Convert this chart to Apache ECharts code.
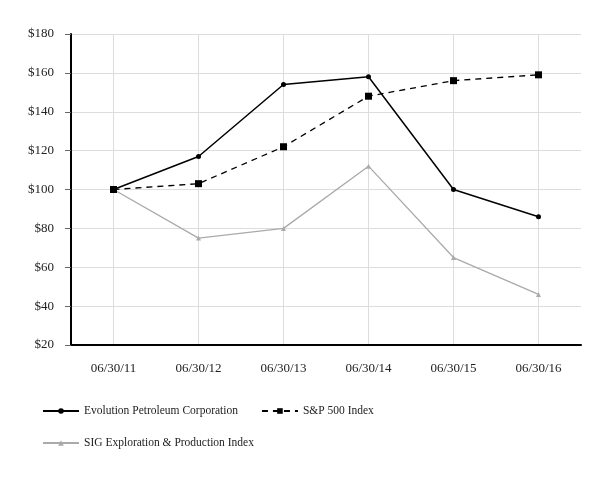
<!DOCTYPE html>
<html><head><meta charset="utf-8">
<script src="https://cdn.jsdelivr.net/npm/echarts@6/dist/echarts.min.js"></script>
<style>html,body{margin:0;padding:0;background:#fff}#c{width:613px;height:480px}</style>
</head><body><div id="c"></div>
<script>
const categories = ['06/30/11','06/30/12','06/30/13','06/30/14','06/30/15','06/30/16'];
const evolution = [100, 117, 154, 158, 100, 86];
const sp500 = [100, 103, 122, 148, 156, 159];
const sig = [100, 75, 80, 112, 65, 46];
const yMin = 20, yMax = 180, yStep = 20;

const font = 'Liberation Serif';
const chart = echarts.init(document.getElementById('c'));
const legendText = {fontFamily: font, fontSize: 11.5, color: '#222'};
chart.setOption({
  animation: false,
  textStyle: {fontFamily: font},
  grid: {left: 71, right: 32, top: 34, bottom: 135},
  legend: [
    {left: 37, top: 400, itemWidth: 36, itemHeight: 7, itemGap: 23,
     textStyle: legendText,
     data: ['Evolution Petroleum Corporation', 'S&P 500 Index']},
    {left: 37, top: 432, itemWidth: 36, itemHeight: 7,
     textStyle: legendText,
     data: ['SIG Exploration & Production Index']}
  ],
  xAxis: {
    type: 'category', data: categories, boundaryGap: true,
    axisLine: {lineStyle: {color: '#000', width: 2}},
    axisTick: {alignWithLabel: true, length: 5, lineStyle: {color: '#666'}},
    axisLabel: {margin: 17, fontFamily: font, fontSize: 13, color: '#222'},
    splitLine: {show: false}
  },
  yAxis: {
    type: 'value', min: yMin, max: yMax, interval: yStep,
    axisLine: {show: true, lineStyle: {color: '#000', width: 2}},
    axisTick: {show: true, length: 6, lineStyle: {color: '#666'}},
    axisLabel: {margin: 17, fontFamily: font, fontSize: 13, color: '#222', formatter: v => '$' + v},
    splitLine: {lineStyle: {color: '#ddd', width: 1}}
  },
  series: [
    {name: 'vgrid', type: 'line', data: [], z: 0, silent: true,
     markLine: {silent: true, z: 0, symbol: 'none', label: {show: false},
       lineStyle: {color: '#ddd', width: 1, type: 'solid'},
       data: categories.map(c => ({xAxis: c}))}},
    {name: 'SIG Exploration & Production Index', type: 'line', data: sig, z: 3,
     symbol: 'triangle', symbolSize: 5,
     lineStyle: {color: '#aaa', width: 1.3},
     itemStyle: {color: '#aaa', borderWidth: 0, borderType: 'solid'}},
    {name: 'S&P 500 Index', type: 'line', data: sp500, z: 4,
     symbol: 'rect', symbolSize: 7,
     lineStyle: {color: '#000', width: 1.3, type: [6, 5]},
     itemStyle: {color: '#000', borderWidth: 0, borderType: 'solid'}},
    {name: 'Evolution Petroleum Corporation', type: 'line', data: evolution, z: 5,
     symbol: 'circle', symbolSize: 5,
     lineStyle: {color: '#000', width: 1.5},
     itemStyle: {color: '#000', borderWidth: 0, borderType: 'solid'}}
  ]
});
</script></body></html>
